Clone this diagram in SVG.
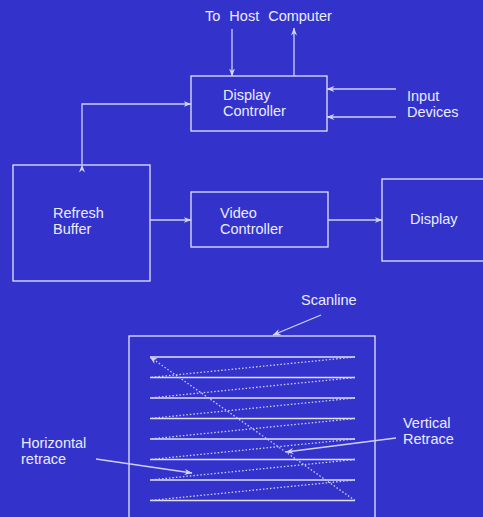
<svg xmlns="http://www.w3.org/2000/svg" width="483" height="517" viewBox="0 0 483 517">
  <defs>
    <marker id="arrow" markerWidth="8" markerHeight="6" refX="7.5" refY="3" orient="auto" markerUnits="userSpaceOnUse">
      <path d="M0,0 L8,3 L0,6 L2.5,3 Z" fill="#d4d4f6"/>
    </marker>
    <style>
      .box { fill: none; stroke: #e4e4fa; stroke-width: 1.3; }
      .wire { fill: none; stroke: #d0d0f4; stroke-width: 1.3; }
      .arr { marker-end: url(#arrow); }
      .scan { stroke: #e0e0fa; stroke-width: 1.3; }
      .retrace { stroke: #d0d0f4; stroke-width: 1.3; stroke-dasharray: 1.5 2; fill: none; }
      text { font-family: "Liberation Sans", Arial, sans-serif; font-size: 14.5px; fill: #ececff; }
    </style>
  </defs>

  <rect x="0" y="0" width="483" height="517" fill="#3333cc"/>

  <!-- block diagram nodes -->
  <g id="host-label">
    <text x="205" y="21" word-spacing="5">To Host Computer</text>
  </g>
  <g id="display-controller">
    <rect class="box" x="191" y="76" width="136" height="55"/>
    <text x="223" y="100">Display</text>
    <text x="223" y="116">Controller</text>
  </g>
  <g id="input-devices">
    <text x="407" y="101">Input</text>
    <text x="407" y="117">Devices</text>
  </g>
  <g id="refresh-buffer">
    <rect class="box" x="13" y="165" width="137" height="116"/>
    <text x="53" y="218">Refresh</text>
    <text x="53" y="234">Buffer</text>
  </g>
  <g id="video-controller">
    <rect class="box" x="191" y="192" width="137" height="55"/>
    <text x="220" y="218">Video</text>
    <text x="220" y="234">Controller</text>
  </g>
  <g id="display">
    <rect class="box" x="382" y="179" width="110" height="82"/>
    <text x="410" y="224">Display</text>
  </g>

  <!-- connectors -->
  <g id="connectors">
    <line class="wire arr" x1="232" y1="29" x2="232" y2="76"/>
    <line class="wire arr" x1="294" y1="76" x2="294" y2="28"/>
    <line class="wire arr" x1="396" y1="89" x2="327" y2="89"/>
    <line class="wire arr" x1="396" y1="117" x2="327" y2="117"/>
    <path class="wire arr" d="M82,165 L82,104 L191,104" style="marker-start: url(#arrow)"/>
    <line class="wire arr" x1="150" y1="220" x2="191" y2="220"/>
    <line class="wire arr" x1="328" y1="220" x2="382" y2="220"/>
  </g>

  <!-- raster scan illustration -->
  <g id="screen">
    <rect class="box" x="129" y="336" width="246" height="200"/>
    <text x="301" y="305">Scanline</text>
    <line class="wire arr" x1="321" y1="315" x2="273" y2="335"/>
    <g id="scanlines">
      <line class="scan" x1="150" y1="357" x2="355" y2="357"/>
      <line class="scan" x1="150" y1="377.5" x2="355" y2="377.5"/>
      <line class="scan" x1="150" y1="398" x2="355" y2="398"/>
      <line class="scan" x1="150" y1="418.5" x2="355" y2="418.5"/>
      <line class="scan" x1="150" y1="439" x2="355" y2="439"/>
      <line class="scan" x1="150" y1="459.5" x2="355" y2="459.5"/>
      <line class="scan" x1="150" y1="480" x2="355" y2="480"/>
      <line class="scan" x1="150" y1="500.5" x2="355" y2="500.5"/>
    </g>
    <g id="horizontal-retraces">
      <line class="retrace" x1="355" y1="357" x2="150" y2="377.5"/>
      <line class="retrace" x1="355" y1="377.5" x2="150" y2="398"/>
      <line class="retrace" x1="355" y1="398" x2="150" y2="418.5"/>
      <line class="retrace" x1="355" y1="418.5" x2="150" y2="439"/>
      <line class="retrace" x1="355" y1="439" x2="150" y2="459.5"/>
      <line class="retrace" x1="355" y1="459.5" x2="150" y2="480"/>
      <line class="retrace" x1="355" y1="480" x2="150" y2="500.5"/>
    </g>
    <line class="retrace arr" x1="355" y1="500.5" x2="150" y2="357"/>
    <text x="403" y="428">Vertical</text>
    <text x="403" y="444">Retrace</text>
    <line class="wire arr" x1="396" y1="438" x2="286" y2="452"/>
    <text x="21" y="448">Horizontal</text>
    <text x="21" y="464">retrace</text>
    <line class="wire arr" x1="96" y1="459" x2="192" y2="473"/>
  </g>
</svg>
